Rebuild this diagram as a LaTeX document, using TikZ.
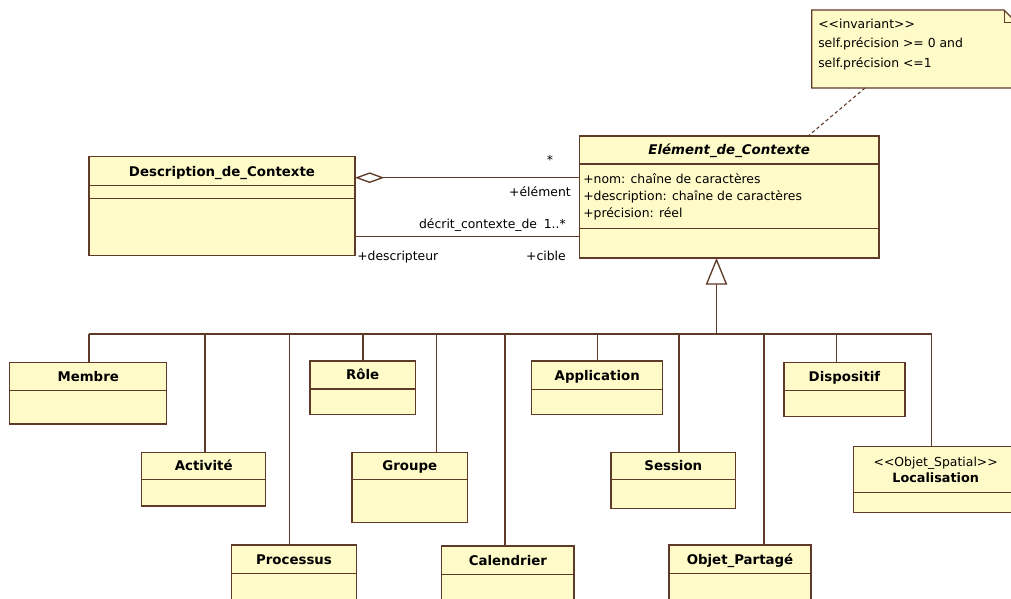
\documentclass[tikz,border=0pt]{standalone}
\usepackage{fontspec}
\setmainfont{DejaVu Sans}
\usetikzlibrary{arrows.meta,calc}
\definecolor{umlfill}{RGB}{255,251,200}
\definecolor{umlline}{RGB}{96,58,40}
\newcommand\umlclass[7]{%
 \pgfmathsetmacro\cw{(#4-#2)*0.75}%
 \pgfmathsetmacro\ch{(#5-#3)*0.75}%
 \node[box, minimum width=\cw pt, minimum height=\ch pt] (#1) at ({(#2+#4)/2},{(#3+#5)/2}) {};%
 \draw[sep] (#2,#6) -- (#4,#6);%
 \node[ttl] (#1-title) at ({(#2+#4)/2},{(#3+#6)/2}) {#7};%
}
\begin{document}
\begin{tikzpicture}[x=0.75pt,y=-0.75pt,
  box/.style={draw=umlline, fill=umlfill, line width=1pt, inner sep=0pt, outer sep=0pt},
  sep/.style={draw=umlline, line width=1pt},
  conn/.style={draw=umlline, line width=1pt},
  ttl/.style={font=\fontsize{10}{12}\selectfont\bfseries, inner sep=0pt, text height=7.3pt, text depth=0pt},
  lbl/.style={font=\fontsize{9.3}{11}\selectfont, inner sep=0pt, text height=6.8pt, text depth=0pt},
]
\useasboundingbox (0,0) rectangle (1011,599);
\fill[white] (0,0) rectangle (1011,599);

% classes
\umlclass{desc}{89}{156.7}{355}{255.7}{185.7}{Description\_de\_Contexte}
\draw[sep] (89,198.3) -- (355,198.3);
\umlclass{elem}{579.3}{136}{879}{258}{164}{\textit{Elément\_de\_Contexte}}
\draw[sep] (579.3,228.3) -- (879,228.3);
\umlclass{membre}{9.7}{362.3}{166.7}{424}{390.7}{Membre}
\umlclass{activite}{141.7}{452.3}{265.7}{506}{479.3}{Activité}
\umlclass{processus}{231.7}{545}{356.3}{606}{573.3}{Processus}
\umlclass{role}{310}{361}{415.3}{414.7}{389}{Rôle}
\umlclass{groupe}{352}{452.3}{467.7}{522.3}{479.3}{Groupe}
\umlclass{calendrier}{441.7}{546}{574}{606}{574.3}{Calendrier}
\umlclass{application}{531.7}{361}{662.7}{414.7}{389.3}{Application}
\umlclass{session}{611}{452.3}{735.7}{508.3}{479.3}{Session}
\umlclass{objet}{669}{545}{811}{606}{573.3}{Objet\_Partagé}
\umlclass{dispositif}{784}{362.3}{905}{416.3}{390.7}{Dispositif}
% Localisation (stereotyped)
\node[box, minimum width=123.5pt, minimum height=49.2pt] (loc) at (935.65,479.5) {};
\draw[sep] (853.3,492.3) -- (1018,492.3);
\node[lbl] (loc-st) at (935.7,461.7) {{<}{<}Objet\_Spatial{>}{>}};
\node[ttl, font=\fontsize{9.6}{11}\selectfont\bfseries] (loc-title) at (935.7,477.3) {Localisation};

% attributes
\node[lbl, anchor=west] (a1) at (583,179) {+nom: chaîne de caractères};
\node[lbl, anchor=west] (a2) at (583,196) {+description: chaîne de caractères};
\node[lbl, anchor=west] (a3) at (583,213) {+précision: réel};

% note
\filldraw[draw=umlline, fill=umlfill, line width=1pt]
  (811.7,10) -- (1004,10) -- (1016,22) -- (1016,88) -- (811.7,88) -- cycle;
\draw[sep, line width=0.6pt] (1004,10) -- (1004,22) -- (1016,22);
\node[lbl, anchor=west] (n1) at (818,24) {{<}{<}invariant{>}{>}};
\node[lbl, anchor=west] (n2) at (818,43.3) {self.précision {>}= 0 and};
\node[lbl, anchor=west] (n3) at (818,62.7) {self.précision {<}=1};
\coordinate (notebot) at (865,88);
\draw[conn, line width=0.8pt, dash pattern=on 2.5pt off 2pt] (notebot) -- ($(elem.north)+(79,0)$);

% associations
\coordinate (ay) at (470,177.7);
\coordinate (by) at (470,236.7);
\draw[conn, {Diamond[open,length=22pt,width=8pt]}-] (desc.east |- ay) -- (elem.west |- ay);
\draw[conn] (desc.east |- by) -- (elem.west |- by);
\node[lbl] (star) at (550,160) {*};
\node[lbl, anchor=east] (lelem) at (571,191.7) {+élément};
\node[lbl, anchor=east] (ldecrit) at (566,224) {décrit\_contexte\_de\hspace{5pt}1..*};
\node[lbl, anchor=west] (ldesc) at (357,256) {+descripteur};
\node[lbl, anchor=east] (lcible) at (566,256) {+cible};

% generalization tree
\coordinate (d1) at (89,334);
\coordinate (d2) at (205,334);
\coordinate (d3) at (289.3,334);
\coordinate (d4) at (363.3,334);
\coordinate (d5) at (436.7,334);
\coordinate (d6) at (505,334);
\coordinate (d7) at (597.3,334);
\coordinate (d8) at (679,334);
\coordinate (stem) at (716.5,334);
\coordinate (d9) at (764,334);
\coordinate (d10) at (836.7,334);
\coordinate (d11) at (931.7,334);
\draw[conn] (d1) -- (d11);
\draw[conn] (membre.north -| d1) -- (d1);
\draw[conn] (activite.north -| d2) -- (d2);
\draw[conn] (processus.north -| d3) -- (d3);
\draw[conn, line width=1.5pt] (role.north -| d4) -- (d4);
\draw[conn] (groupe.north -| d5) -- (d5);
\draw[conn, line width=1.5pt] (calendrier.north -| d6) -- (d6);
\draw[conn] (application.north -| d7) -- (d7);
\draw[conn] (session.north -| d8) -- (d8);
\draw[conn] (objet.north -| d9) -- (d9);
\draw[conn] (dispositif.north -| d10) -- (d10);
\draw[conn] (loc.north -| d11) -- (d11);
\draw[conn, -{Triangle[open,length=20pt,width=16pt]}] (stem) -- (elem.south -| stem);
\end{tikzpicture}
\end{document}
